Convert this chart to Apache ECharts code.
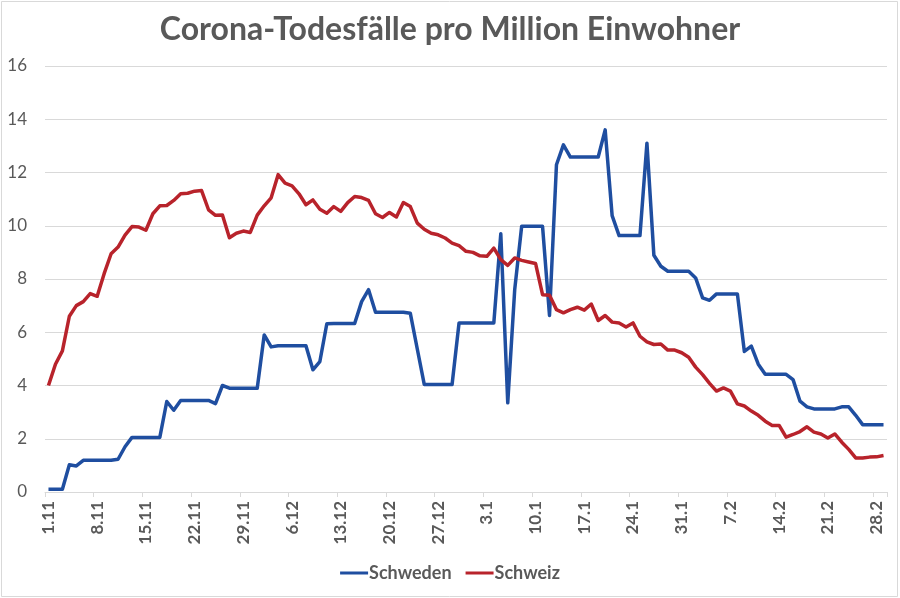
<!DOCTYPE html>
<html>
<head>
<meta charset="utf-8">
<script src="https://cdn.jsdelivr.net/npm/echarts@6/dist/echarts.min.js"></script>
<style>
html,body{margin:0;padding:0;background:#fff;}
#c{width:900px;height:598px;}
</style>
</head>
<body>
<div id="c"></div>
<script>
var dates = [
"1.11","2.11","3.11","4.11","5.11","6.11","7.11","8.11","9.11","10.11","11.11","12.11","13.11","14.11","15.11","16.11","17.11","18.11","19.11","20.11","21.11","22.11","23.11","24.11","25.11","26.11","27.11","28.11","29.11","30.11",
"1.12","2.12","3.12","4.12","5.12","6.12","7.12","8.12","9.12","10.12","11.12","12.12","13.12","14.12","15.12","16.12","17.12","18.12","19.12","20.12","21.12","22.12","23.12","24.12","25.12","26.12","27.12","28.12","29.12","30.12","31.12",
"1.1","2.1","3.1","4.1","5.1","6.1","7.1","8.1","9.1","10.1","11.1","12.1","13.1","14.1","15.1","16.1","17.1","18.1","19.1","20.1","21.1","22.1","23.1","24.1","25.1","26.1","27.1","28.1","29.1","30.1","31.1",
"1.2","2.2","3.2","4.2","5.2","6.2","7.2","8.2","9.2","10.2","11.2","12.2","13.2","14.2","15.2","16.2","17.2","18.2","19.2","20.2","21.2","22.2","23.2","24.2","25.2","26.2","27.2","28.2",
"1.3"
];

var schweden = [
0.1,0.1,0.1,1.02,0.98,1.19,1.19,1.19,1.19,1.19,
1.23,1.7,2.05,2.05,2.05,2.05,2.05,3.4,3.07,3.44,
3.44,3.44,3.44,3.44,3.32,4.0,3.9,3.9,3.9,3.9,
3.9,5.9,5.45,5.49,5.49,5.49,5.49,5.49,4.59,4.9,
6.32,6.33,6.33,6.33,6.33,7.15,7.6,6.75,6.75,6.75,
6.75,6.75,6.71,5.37,4.04,4.04,4.04,4.04,4.04,6.35,
6.35,6.35,6.35,6.35,6.35,9.7,3.35,7.6,9.98,9.98,
9.98,9.98,6.63,12.29,13.04,12.58,12.58,12.58,12.58,12.58,
13.6,10.38,9.63,9.63,9.63,9.63,13.1,8.89,8.48,8.29,
8.29,8.29,8.29,8.04,7.29,7.2,7.44,7.44,7.44,7.44,
5.28,5.48,4.8,4.42,4.42,4.42,4.42,4.22,3.41,3.2,
3.12,3.12,3.12,3.12,3.2,3.2,2.88,2.53,2.53,2.53,
2.53
];

var schweiz = [
4.0,4.8,5.3,6.6,7.0,7.15,7.45,7.35,8.2,8.95,
9.2,9.65,9.97,9.95,9.83,10.45,10.75,10.76,10.95,11.2,
11.22,11.3,11.32,10.6,10.39,10.4,9.55,9.72,9.8,9.75,
10.4,10.75,11.05,11.92,11.6,11.5,11.2,10.79,10.97,10.62,
10.47,10.72,10.54,10.87,11.1,11.06,10.95,10.45,10.31,10.5,
10.33,10.87,10.72,10.1,9.87,9.72,9.66,9.54,9.35,9.25,
9.04,9.0,8.87,8.85,9.16,8.73,8.51,8.79,8.7,8.64,
8.58,7.41,7.39,6.85,6.73,6.85,6.94,6.83,7.06,6.44,
6.63,6.38,6.35,6.2,6.35,5.85,5.64,5.54,5.56,5.33,
5.33,5.23,5.06,4.69,4.41,4.08,3.79,3.91,3.79,3.31,
3.23,3.04,2.88,2.66,2.5,2.5,2.06,2.16,2.27,2.45,
2.25,2.18,2.03,2.18,1.87,1.6,1.28,1.28,1.31,1.32,
1.37
];

var seriesNames = ["Schweden", "Schweiz"];
var titleText = "Corona-Todesfälle pro Million Einwohner";

var chart = echarts.init(document.getElementById('c'), null, {renderer: 'canvas'});
chart.setOption({
  animation: false,
  backgroundColor: '#ffffff',
  textStyle: {fontFamily: 'Lato'},
  title: {
    text: titleText,
    left: 'center',
    top: 9,
    textStyle: {fontFamily: 'Lato', fontWeight: 'bold', fontSize: 32, color: '#595959'}
  },
  graphic: [{
    type: 'rect',
    shape: {x: 1.5, y: 1.5, width: 896, height: 595},
    style: {fill: 'none', stroke: '#d9d9d9', lineWidth: 1},
    silent: true,
    z: -1
  }],
  legend: {
    bottom: 11,
    left: 'center',
    icon: 'rect',
    itemWidth: 28,
    itemHeight: 3,
    itemGap: 14,
    textStyle: {fontFamily: 'Lato', fontWeight: 'bold', fontSize: 18, color: '#595959', padding: [0,0,0,-4]},
    data: seriesNames
  },
  grid: {left: 45, right: 13, top: 66, bottom: 106, containLabel: false},
  xAxis: {
    type: 'category',
    data: dates,
    boundaryGap: true,
    axisLine: {lineStyle: {color: '#d9d9d9', width: 1}},
    axisTick: {show: true, interval: 6, length: 5, lineStyle: {color: '#d9d9d9'}},
    axisLabel: {interval: 6, rotate: 90, margin: 9, fontFamily: 'Lato', fontWeight: 'bold', fontSize: 17, color: '#595959'},
    splitLine: {show: false}
  },
  yAxis: {
    type: 'value',
    min: 0,
    max: 16,
    interval: 2,
    axisLine: {show: false},
    axisTick: {show: false},
    axisLabel: {margin: 18, fontFamily: 'Lato', fontSize: 17, color: '#595959'},
    splitLine: {lineStyle: {color: '#d9d9d9', width: 1}}
  },
  series: [
    {
      name: seriesNames[0],
      type: 'line',
      data: schweden,
      symbol: 'none',
      color: '#1f4ea0',
      lineStyle: {width: 3.5, color: '#1f4ea0', join: 'round'}
    },
    {
      name: seriesNames[1],
      type: 'line',
      data: schweiz,
      symbol: 'none',
      color: '#b8232b',
      lineStyle: {width: 3.5, color: '#b8232b', join: 'round'}
    }
  ]
});
</script>
</body>
</html>
